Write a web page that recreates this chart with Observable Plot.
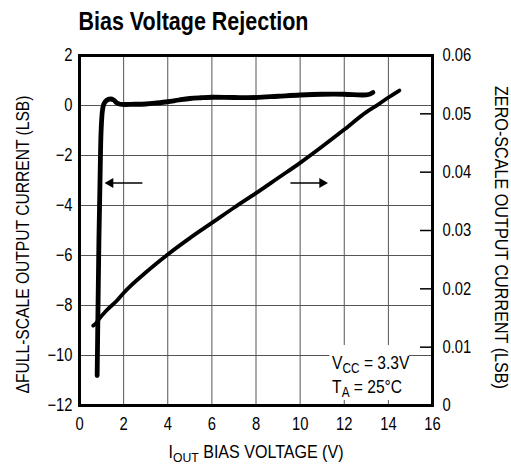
<!DOCTYPE html>
<html>
<head>
<meta charset="utf-8">
<script src="https://cdn.jsdelivr.net/npm/d3@7"></script>
<script src="https://cdn.jsdelivr.net/npm/@observablehq/plot@0.6"></script>
<style>
  html, body { margin: 0; padding: 0; background: white; }
  #chart { width: 511px; height: 464px; }
</style>
</head>
<body>
<div id="chart"></div>
<script>
// ---- data ----
const title = "Bias Voltage Rejection";
const xLabel = "I_{OUT} BIAS VOLTAGE (V)";
const yLeftLabel = "ΔFULL-SCALE OUTPUT CURRENT (LSB)";
const yRightLabel = "ZERO-SCALE OUTPUT CURRENT (LSB)";
const xTicks = [0, 2, 4, 6, 8, 10, 12, 14, 16];
const yLeftTicks = [2, 0, -2, -4, -6, -8, -10, -12];
const yRightTicks = [0, 0.01, 0.02, 0.03, 0.04, 0.05, 0.06];
const yRightTickLabels = ["0", "0.01", "0.02", "0.03", "0.04", "0.05", "0.06"];

// full-scale curve (left axis)
const fsX = [0.80, 0.84, 0.88, 0.93, 0.98, 1.04, 1.10, 1.22, 1.40, 1.55, 1.70, 1.85, 2.5, 3.0, 3.5, 4.0, 4.5, 5.0, 5.5, 6.0, 7.0, 8.0, 9.0, 10.0, 11.0, 12.0, 12.8, 13.1, 13.3];
const fsY = [-10.8, -8.0, -5.4, -3.0, -1.0, -0.2, 0.05, 0.2, 0.26, 0.22, 0.1, 0.05, 0.05, 0.06, 0.1, 0.15, 0.22, 0.28, 0.31, 0.33, 0.32, 0.32, 0.37, 0.42, 0.45, 0.45, 0.42, 0.44, 0.52];

// zero-scale curve (right axis)
const zsX = [0.62, 0.75, 0.90, 1.2, 1.7, 2.0, 3.0, 4.0, 5.0, 6.0, 7.0, 8.0, 9.0, 10.0, 11.0, 12.0, 13.0, 13.5, 14.0, 14.5];
const zsV = [0.0137, 0.0141, 0.0149, 0.0162, 0.0180, 0.0193, 0.0228, 0.0259, 0.0287, 0.0313, 0.0339, 0.0364, 0.0390, 0.0416, 0.0444, 0.0473, 0.0503, 0.0515, 0.0528, 0.0540];

// arrows indicating which axis each curve belongs to
const arrowTailX = [2.85, 9.56];
const arrowTipX = [1.40, 11.0];
const arrowY = [-3.1, -3.1];
const arrowDir = [-90, 90];

// conditions annotation and the white box behind it
const annoText = ["V_{CC} = 3.3V", "T_{A} = 25°C"];
const annoX = [11.45, 11.45];
const annoY = [-10.52, -11.48];
const annoBox = [{x1: 11.35, x2: 14.95, y1: -11.8, y2: -9.6}];

// ---- helpers ----
const yMin = -12, yMax = 2, rMax = 0.06;
const toL = v => yMin + v / rMax * (yMax - yMin);

const fs = fsX.map((x, i) => ({x, y: fsY[i]}));
const zs = zsX.map((x, i) => ({x, y: toL(zsV[i])}));
const arrows = arrowTailX.map((x, i) => ({x1: x, x2: arrowTipX[i], y: arrowY[i], r: arrowDir[i]}));
const anno = annoText.map((t, i) => ({t, x: annoX[i], y: annoY[i]}));

const font = '"Liberation Sans", Arial, sans-serif';
const innerTick = 12 / (353 / 16);

const chart = Plot.plot({
  width: 511,
  height: 464,
  marginLeft: 79,
  marginRight: 79,
  marginTop: 55,
  marginBottom: 59,
  x: {domain: [0, 16]},
  y: {domain: [yMin, yMax]},
  style: {fontFamily: font, fontSize: "18px", background: "white", color: "black", overflow: "visible"},
  marks: [
    Plot.gridX(xTicks.slice(1, -1), {stroke: "#555", strokeOpacity: 1, strokeWidth: 1}),
    Plot.gridY(yLeftTicks.slice(1, -1), {stroke: "#555", strokeOpacity: 1, strokeWidth: 1}),
    Plot.ruleY(yRightTicks.slice(1, -1), {y: d => toL(d), x1: 16 - innerTick, x2: 16, stroke: "black", strokeWidth: 1.5}),
    Plot.rect(annoBox, {x1: "x1", x2: "x2", y1: "y1", y2: "y2", fill: "white"}),
    Plot.text(anno, {x: "x", y: "y", text: "t", textAnchor: "start", lineAnchor: "bottom", fontSize: 19, fill: "black", className: "sublabel"}),
    Plot.line(zs, {x: "x", y: "y", stroke: "black", strokeWidth: 3.8, strokeLinecap: "round", strokeLinejoin: "round", curve: "monotone-x"}),
    Plot.line(fs, {x: "x", y: "y", stroke: "black", strokeWidth: 4.8, strokeLinecap: "round", strokeLinejoin: "round", curve: "catmull-rom"}),
    Plot.link(arrows, {x1: "x1", x2: "x2", y1: "y", y2: "y", stroke: "black", strokeWidth: 1.3}),
    Plot.dot(arrows, {x: "x2", y: "y", symbol: "triangle2", r: 4.8, rotate: "r", fill: "black"}),
    Plot.frame({stroke: "black", strokeWidth: 3}),
    Plot.axisX(xTicks, {tickSize: 0, tickPadding: 12, label: null, fontSize: 18}),
    Plot.axisY(yLeftTicks, {anchor: "left", tickSize: 0, tickPadding: 7, label: null, fontSize: 18}),
    Plot.axisY(yRightTicks.map(toL), {anchor: "right", tickSize: 0, tickPadding: 10, label: null, fontSize: 18,
      tickFormat: d => yRightTickLabels[yRightTicks.findIndex(v => Math.abs(toL(v) - d) < 1e-6)]}),
    Plot.text([title], {text: d => d, frameAnchor: "top-left", textAnchor: "start", lineAnchor: "bottom", dx: -1, dy: -26, fontSize: 25, fontWeight: "bold", className: "ttl"}),
    Plot.text([yLeftLabel], {text: d => d, frameAnchor: "left", textAnchor: "middle", lineAnchor: "middle", rotate: -90, dx: -56, dy: 14, fontSize: 18, className: "ylab-l"}),
    Plot.text([yRightLabel], {text: d => d, frameAnchor: "right", textAnchor: "middle", lineAnchor: "middle", rotate: 90, dx: 68, dy: 7, fontSize: 18, className: "ylab-r"}),
    Plot.text([xLabel], {text: d => d, frameAnchor: "bottom", lineAnchor: "bottom", dy: 52, fontSize: 18, className: "sublabel xlab"})
  ]
});

// subscripts: replace _{...} markup with tspans
function subify(el) {
  const s = el.textContent;
  if (!s.includes("_{")) return;
  el.textContent = "";
  const re = /_\{([^}]*)\}/g;
  let last = 0, m, shifted = false;
  const add = (str, sub) => {
    const t = document.createElementNS("http://www.w3.org/2000/svg", "tspan");
    t.textContent = str;
    if (sub) { t.setAttribute("font-size", "76%"); t.setAttribute("dy", "4"); shifted = true; }
    else if (shifted) { t.setAttribute("dy", "-4"); shifted = false; }
    el.appendChild(t);
  };
  while ((m = re.exec(s))) {
    if (m.index > last) add(s.slice(last, m.index), false);
    add(m[1], true);
    last = re.lastIndex;
  }
  if (last < s.length) add(s.slice(last), false);
}
chart.querySelectorAll("g.sublabel text").forEach(subify);

document.getElementById("chart").appendChild(chart);

// emulate the reference's condensed typeface, keeping each text's anchor in place
const fixed = new Map([["ttl", 230], ["ylab-l", 298], ["ylab-r", 303], ["xlab", 175]]);
chart.querySelectorAll("text").forEach(el => {
  const g = el.closest("g");
  let target = null;
  for (const [cls, w] of fixed) if (g && g.classList.contains(cls)) target = w;
  const len = el.getComputedTextLength();
  if (!len) return;
  const anchor = getComputedStyle(el).textAnchor;
  const b0 = el.getBBox();
  el.setAttribute("textLength", target ?? len * 0.82);
  el.setAttribute("lengthAdjust", "spacingAndGlyphs");
  const b1 = el.getBBox();
  let shift;
  if (anchor === "middle") shift = (b0.x + b0.width / 2) - (b1.x + b1.width / 2);
  else if (anchor === "end") shift = (b0.x + b0.width) - (b1.x + b1.width);
  else shift = b0.x - b1.x;
  if (Math.abs(shift) > 0.3) {
    const x0 = parseFloat(el.getAttribute("x")) || 0;
    el.setAttribute("x", x0 + shift);
  }
});
</script>
</body>
</html>
